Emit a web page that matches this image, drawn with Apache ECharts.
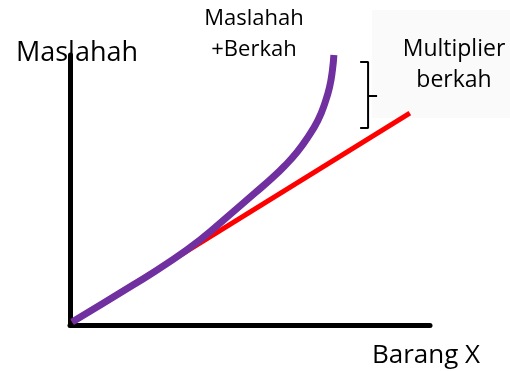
<!DOCTYPE html>
<html>
<head>
<meta charset="utf-8">
<script src="https://cdn.jsdelivr.net/npm/echarts@6/dist/echarts.min.js"></script>
<style>
  html, body { margin: 0; padding: 0; background: #fff; }
  #chart { width: 510px; height: 371px; }
</style>
</head>
<body>
<div id="chart"></div>
<script>
// kurva maslahah + berkah (ungu)
const berkahX = [0.6, 17.5, 27.0, 36.1, 45.3, 51.4, 56.1, 59.6, 63.1, 66.1, 68.9, 70.8, 72.1, 72.9, 73.3]
const berkahY = [1.1, 14.8, 22.8, 31.5, 41.9, 48.9, 54.4, 58.9, 64.1, 69.6, 75.9, 82.2, 88.1, 94.4, 100]
// garis maslahah saja (merah)
const maslahahX = [0.6, 94.4]
const maslahahY = [1.1, 78.5]
// kurung kurawal "multiplier berkah"
const braceX = [80.6, 82.8, 82.8, 85.3, 82.8, 82.8, 80.6]
const braceY = [97.4, 97.4, 84.8, 84.8, 84.8, 73.0, 73.0]

const FONT = 'Open Sans'

const chart = echarts.init(document.getElementById('chart'))
chart.setOption({
  animation: false,
  backgroundColor: '#fff',
  grid: { left: 70, right: 80, top: 55, bottom: 46 },
  xAxis: {
    type: 'value',
    min: 0,
    max: 100,
    name: 'Barang X',
    nameLocation: 'end',
    nameGap: -4,
    nameTextStyle: {
      fontFamily: FONT, fontSize: 26, color: '#000',
      align: 'center', verticalAlign: 'top', padding: [18, 0, 0, 0]
    },
    axisLine: { lineStyle: { color: '#000', width: 5 } },
    axisTick: { show: false },
    axisLabel: { show: false },
    splitLine: { show: false }
  },
  yAxis: {
    type: 'value',
    min: 0,
    max: 100,
    name: 'Maslahah',
    nameLocation: 'end',
    nameGap: -12,
    nameTextStyle: {
      fontFamily: FONT, fontSize: 27, color: '#000',
      align: 'center', verticalAlign: 'bottom', padding: [0, 0, 0, 14]
    },
    axisLine: { lineStyle: { color: '#000', width: 5 } },
    axisTick: { show: false },
    axisLabel: { show: false },
    splitLine: { show: false }
  },
  graphic: [
    {
      type: 'rect', z: -1,
      shape: { x: 372, y: 10, width: 138, height: 108 },
      style: { fill: '#fafafa' }
    },
    {
      type: 'text', x: 254, y: 3,
      style: {
        text: 'Maslahah\n+Berkah', fontFamily: FONT, fontSize: 22, lineHeight: 31,
        fill: '#000', align: 'center'
      }
    },
    {
      type: 'text', x: 454, y: 34,
      style: {
        text: 'Multiplier\nberkah', fontFamily: FONT, fontSize: 23, lineHeight: 31,
        fill: '#000', align: 'center'
      }
    }
  ],
  series: [
    {
      type: 'line',
      name: 'Maslahah',
      data: maslahahX.map((x, i) => [x, maslahahY[i]]),
      showSymbol: false,
      lineStyle: { color: '#ff0000', width: 5 },
      z: 2
    },
    {
      type: 'line',
      name: 'Maslahah+Berkah',
      data: berkahX.map((x, i) => [x, berkahY[i]]),
      smooth: 0.5,
      showSymbol: false,
      lineStyle: { color: '#7030a0', width: 7 },
      z: 3
    },
    {
      type: 'line',
      name: 'brace',
      data: braceX.map((x, i) => [x, braceY[i]]),
      showSymbol: false,
      lineStyle: { color: '#000', width: 2 },
      z: 1
    }
  ]
})
</script>
</body>
</html>
